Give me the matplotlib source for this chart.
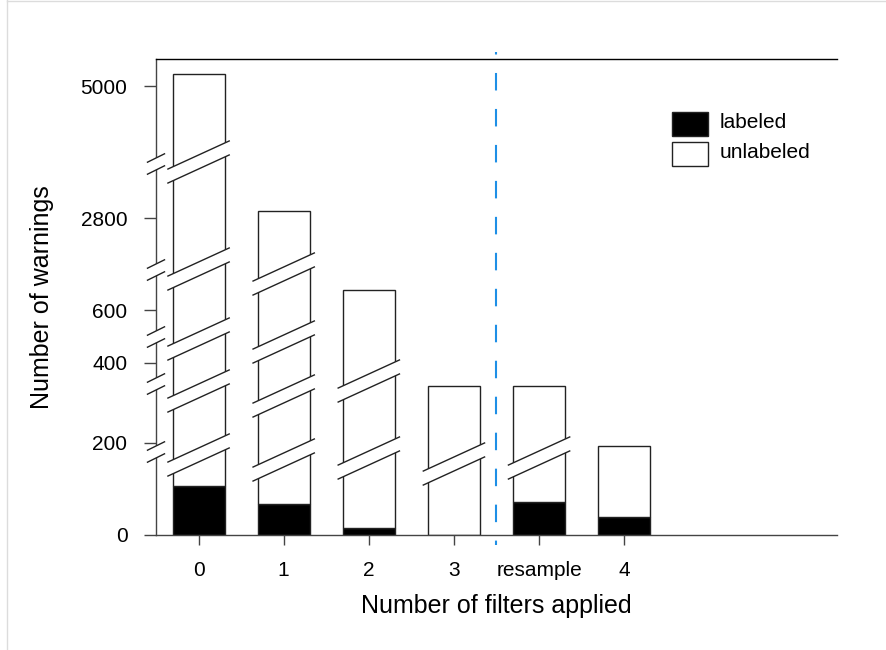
import numpy as np
import matplotlib
matplotlib.use('Agg')
import matplotlib.pyplot as plt
from matplotlib.patches import Polygon, Rectangle
from matplotlib.lines import Line2D
from matplotlib.transforms import blended_transform_factory

plt.rcParams['font.family'] = ['Liberation Sans', 'DejaVu Sans']
plt.rcParams['lines.scale_dashes'] = False

##### data
categories = ['0', '1', '2', '3', 'resample', '4']
labeled = [106, 67, 15, 0, 72, 39]
unlabeled = [5094, 2853, 665, 342, 270, 154]
ytick_vals = [0, 200, 400, 600, 2800, 5000]
legend_labels = ['labeled', 'unlabeled']

##### broken y scale (value -> axis position, top of axis = 476)
VAL_KNOTS = [-1000, 0, 200, 400, 600, 700, 2800, 5000, 8000]
POS_KNOTS = [-460, 0, 92, 172, 225, 250, 317, 449, 629]
POS_TOP = 476

# break marks, in axis position units
axis_breaks = [371, 265, 198, 151, 83]
bar_breaks = [[373, 266, 196, 144, 80], [261, 193, 139, 75], [154, 77], [71], [77], []]

EDGE = '#222222'


def fwd(v):
    return np.interp(v, VAL_KNOTS, POS_KNOTS)


def inv(p):
    return np.interp(p, POS_KNOTS, VAL_KNOTS)


fig = plt.figure(figsize=(8.87, 6.5), dpi=100)
ax = fig.add_axes([156/887, 115/650, 681/887, 476/650])
ax.set_yscale('function', functions=(fwd, inv))

x = np.arange(len(categories))
lab = np.array(labeled)
unl = np.array(unlabeled)
ax.bar(x, lab, width=0.61, color='black', edgecolor=EDGE, linewidth=1.0, zorder=2)
ax.bar(x, unl, bottom=lab, width=0.61, color='white', edgecolor=EDGE, linewidth=1.0, zorder=2)

ax.set_xlim(-0.5, 7.5)
ax.set_ylim(0, inv(POS_TOP))

trans = blended_transform_factory(ax.transData, ax.transAxes)


def draw_break(xc, c, half, slope, gap, clip=True):
    # slanted double line with white gap; c/slope/gap in position units
    xs = np.array([xc - half, xc + half])
    yc = c + slope * (xs - xc)
    up = (yc + gap) / POS_TOP
    lo = (yc - gap) / POS_TOP
    poly = Polygon([[xs[0], lo[0]], [xs[1], lo[1]], [xs[1], up[1]], [xs[0], up[0]]],
                   closed=True, facecolor='white', edgecolor='none',
                   transform=trans, zorder=3, clip_on=clip)
    ax.add_patch(poly)
    for yy in (up, lo):
        ax.add_line(Line2D(xs, yy, color=EDGE, lw=1.0, transform=trans,
                           zorder=4, clip_on=clip))


for i, brks in enumerate(bar_breaks):
    for c in brks:
        draw_break(x[i], c, 0.36, 39.0, 7.0)

for c in axis_breaks:
    draw_break(-0.5, c, 0.1, 42.0, 6.0, clip=False)

# divider between filters and resample
ax.add_line(Line2D([3.5, 3.5], [483/POS_TOP, -10/POS_TOP], transform=trans,
                   color='#1e8fe6', lw=1.5, clip_on=False, zorder=5,
                   linestyle=(10.8, (12.6, 13.3))))

# spines and ticks
ax.spines['right'].set_visible(False)
for s in ['left', 'bottom']:
    ax.spines[s].set_color('#444444')
    ax.spines[s].set_linewidth(1.0)
ax.spines['top'].set_color('black')
ax.spines['top'].set_linewidth(1.0)

ax.set_yticks(ytick_vals)
ax.set_yticklabels([str(v) for v in ytick_vals])
ax.set_xticks(x)
ax.set_xticklabels(categories)
ax.yaxis.set_minor_locator(plt.NullLocator())
ax.tick_params(axis='y', direction='out', length=8.6, width=1.0, color='#444444',
               labelsize=15, pad=12)
ax.tick_params(axis='x', direction='out', length=7, width=1.0, color='#444444',
               labelsize=15, pad=12)

ax.set_xlabel('Number of filters applied', fontsize=18, va='center')
ax.xaxis.set_label_coords(0.5, -71/POS_TOP)
ax.set_ylabel('Number of warnings', fontsize=18, va='center')
ax.yaxis.set_label_coords(-114/681, 0.5)

# legend
leg_colors = ['black', 'white']
for i, (lbl, col) in enumerate(zip(legend_labels, leg_colors)):
    ax.add_patch(Rectangle((0.758, (399 - 30*i)/POS_TOP), 36/681, 24/POS_TOP,
                           transform=ax.transAxes, facecolor=col, edgecolor=EDGE,
                           linewidth=1.0, clip_on=False, zorder=5))
    ax.text(0.828, (412 - 30*i)/POS_TOP, lbl, transform=ax.transAxes,
            fontsize=15, va='center', ha='left')

# light page frame
fig.add_artist(Line2D([7/887, 7/887], [0, 1], color='#dcdcdc', lw=1.0))
fig.add_artist(Line2D([7/887, 1], [1 - 1/650, 1 - 1/650], color='#dcdcdc', lw=1.0))

fig.savefig('out.png', dpi=100)
